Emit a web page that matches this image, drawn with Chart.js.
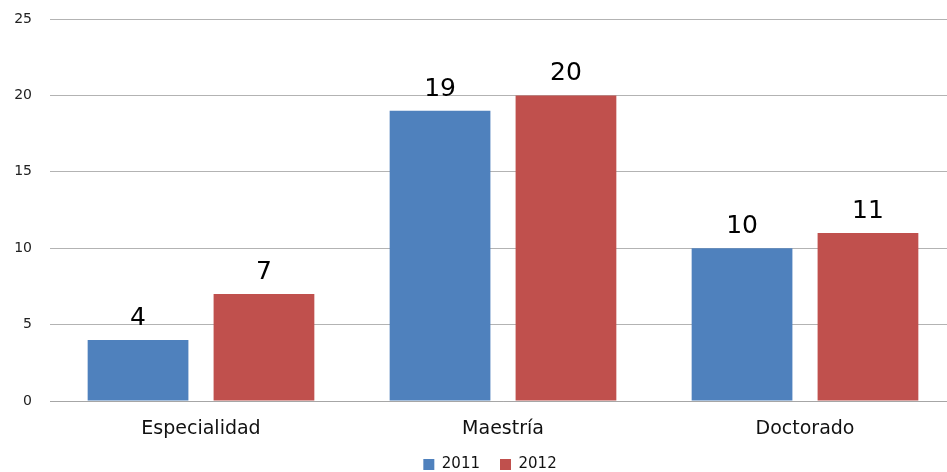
<!DOCTYPE html>
<html>
<head>
<meta charset="utf-8">
<script src="https://cdn.jsdelivr.net/npm/chart.js@4.4.1/dist/chart.umd.min.js"></script>
<style>
  html, body { margin: 0; padding: 0; background: #fff; overflow: hidden; }
  /* plot runs a few px past the right edge, as in the original */
  #wrap { width: 956px; height: 472px; }
</style>
</head>
<body>
<div id="wrap"><canvas id="chart"></canvas></div>
<script>
// data
const categories = ['Especialidad', 'Maestría', 'Doctorado'];
const seriesNames = ['2011', '2012'];
const values2011 = [4, 19, 10];
const values2012 = [7, 20, 11];
const yTicks = [0, 5, 10, 15, 20, 25];

const FONT = "'DejaVu Sans', Verdana, sans-serif";

// draws the numbers above each bar
const barValues = {
    id: 'barValues',
    afterDatasetsDraw(chart) {
        const ctx = chart.ctx;
        ctx.save();
        ctx.font = '25px ' + FONT;
        ctx.fillStyle = '#000';
        ctx.textAlign = 'center';
        ctx.textBaseline = 'alphabetic';
        chart.data.datasets.forEach((ds, i) => {
            chart.getDatasetMeta(i).data.forEach((bar, j) => {
                ctx.fillText(String(ds.data[j]), bar.x, bar.y - 15);
            });
        });
        ctx.restore();
    }
};

// move the legend a bit right and up
const legendShift = {
    id: 'legendShift',
    afterLayout(chart) {
        const lg = chart.legend;
        lg.left += 12;
        lg.right += 12;
        lg.top -= 8;
        lg.bottom -= 8;
    }
};

new Chart(document.getElementById('chart'), {
    type: 'bar',
    data: {
        labels: categories,
        datasets: [
            { label: seriesNames[0], data: values2011, backgroundColor: '#4F81BD' },
            { label: seriesNames[1], data: values2012, backgroundColor: '#C0504D' }
        ]
    },
    options: {
        responsive: true,
        maintainAspectRatio: false,
        animation: false,
        categoryPercentage: 0.834,
        barPercentage: 0.8,
        layout: { padding: { top: 19, right: 0, left: 0, bottom: -18 } },
        scales: {
            x: {
                afterFit(scale) { scale.height = 44; },
                grid: { display: false, drawTicks: false },
                border: { display: true, color: '#a6a6a6', width: 1 },
                ticks: { color: '#111', font: { family: FONT, size: 19 }, padding: 17 }
            },
            y: {
                min: 0,
                max: 25,
                afterFit(scale) {
                    scale.width = 50;
                    scale.paddingTop = 0;
                    scale.paddingBottom = 0;
                },
                afterBuildTicks(scale) { scale.ticks = yTicks.map(v => ({ value: v })); },
                grid: { color: '#b3b3b3', drawTicks: false },
                border: { display: false },
                ticks: { color: '#222', font: { family: FONT, size: 14 }, padding: 18 }
            }
        },
        plugins: {
            legend: {
                position: 'bottom',
                labels: {
                    boxWidth: 11,
                    boxHeight: 11,
                    color: '#111',
                    font: { family: FONT, size: 15 },
                    padding: 20
                }
            },
            tooltip: { enabled: false }
        }
    },
    plugins: [barValues, legendShift]
});
</script>
</body>
</html>
